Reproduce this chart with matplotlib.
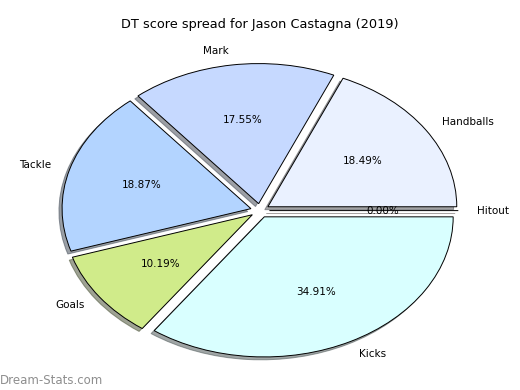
import matplotlib.pyplot as plt

labels = ["Handballs", "Mark", "Tackle", "Goals", "Kicks", "Hitout"]
values = [18.49, 17.55, 18.87, 10.19, 34.91, 0.00]
colors = ["#EAF1FF", "#C6D9FF", "#B3D4FF", "#D0EB8A", "#D9FFFF", "#FFE4E1"]

fig = plt.figure(figsize=(5.2, 3.9), dpi=100)
ax = fig.add_axes([0.046, 0.011, 0.908, 0.898])

wedges, texts, autotexts = ax.pie(
    values, labels=labels, colors=colors, autopct="%1.2f%%",
    explode=[0.05] * len(values),
    shadow={"ox": -0.012, "oy": -0.015},
    startangle=0,
    wedgeprops=dict(edgecolor="black", linewidth=0.7),
    textprops=dict(fontsize=7.5))
ax.set_aspect("auto")
ax.set_xlim(-1.25, 1.25)
ax.set_ylim(-1.25, 1.25)

fig.suptitle("DT score spread for Jason Castagna (2019)", fontsize=9.3, y=0.955)
fig.text(0.0, 0.015, "Dream-Stats.com", color="#8e8e8e", fontsize=8.5)

fig.savefig("out.png", dpi=100)
